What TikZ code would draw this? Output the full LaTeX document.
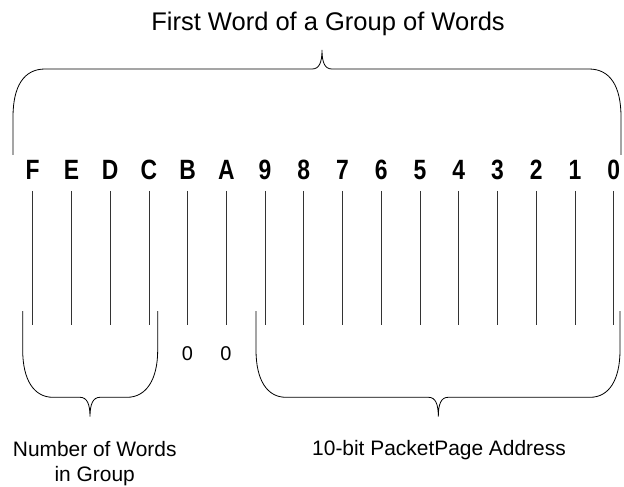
\documentclass[tikz,border=0pt]{standalone}
\usepackage{fontspec}
\setmainfont{Liberation Sans}
\newfontfamily\bitfont[FakeStretch=0.82]{Liberation Sans Bold}
\begin{document}
\begin{tikzpicture}[x=1bp,y=-1bp,
  bitlabel/.style={font=\bitfont\fontsize{28}{30}\selectfont,anchor=base,inner sep=0pt},
  txt/.style={font=\fontsize{21}{24}\selectfont,anchor=base,inner sep=0pt},
  tick/.style={line width=0.7bp,draw=black!80},
  brace/.style={line width=0.8bp,draw=black}]
\useasboundingbox (0,0) rectangle (624,487);
% title
\node[txt,font=\fontsize{25.6}{28}\selectfont] (title) at (328,30.7) {First Word of a Group of Words};
% bits
\foreach \lab [count=\i from 0] in {F,E,D,C,B,A,9,8,7,6,5,4,3,2,1,0}{
  \pgfmathsetmacro{\xx}{32.7+38.73*\i}
  \node[bitlabel] (b\i) at (\xx,180) {\lab};
  \coordinate (t\i) at (\xx,191);
  \coordinate (u\i) at (\xx,325);
  \draw[tick] (t\i) -- (u\i);
}
% top brace
\coordinate (tl) at (13,155);
\coordinate (tr) at (621,155);
\coordinate (ttip) at (322,50);
\draw[brace] (tl) -- (13,117) .. controls (13,86) and (24,69) .. (45,69)
  -- (312,69) .. controls (319,69) and (322,63) .. (ttip)
  .. controls (322,63) and (325,69) .. (332,69)
  -- (589,69) .. controls (610,69) and (621,86) .. (621,117) -- (tr);
% lower left brace
\coordinate (ll) at (22.7,311);
\coordinate (lr) at (157.7,311);
\coordinate (ltip) at (90,416.7);
\draw[brace] (ll) -- (22.7,350) .. controls (22.7,380) and (34,397.3) .. (53,397.3)
  -- (80,397.3) .. controls (87,397.3) and (90,404) .. (ltip)
  .. controls (90,404) and (93,397.3) .. (100,397.3)
  -- (127,397.3) .. controls (146,397.3) and (157.7,380) .. (157.7,350) -- (lr);
% lower right brace
\coordinate (rl) at (256,311);
\coordinate (rr) at (620,311);
\coordinate (rtip) at (438.3,416.7);
\draw[brace] (rl) -- (256,350) .. controls (256,380) and (267,397.3) .. (286,397.3)
  -- (428.5,397.3) .. controls (435.5,397.3) and (438.3,404) .. (rtip)
  .. controls (438.3,404) and (441.1,397.3) .. (448.1,397.3)
  -- (590,397.3) .. controls (609,397.3) and (620,380) .. (620,350) -- (rr);
% zeros
\node[txt,font=\fontsize{20}{24}\selectfont] (zB) at (187.3,360.5) {0};
\node[txt,font=\fontsize{20}{24}\selectfont] (zA) at (226,360.5) {0};
% labels
\node[txt] (num1) at (94.7,456) {Number of Words};
\node[txt] (num2) at (94.7,481) {in Group};
\node[txt] (addr) at (439,455) {10-bit PacketPage Address};
\end{tikzpicture}
\end{document}
